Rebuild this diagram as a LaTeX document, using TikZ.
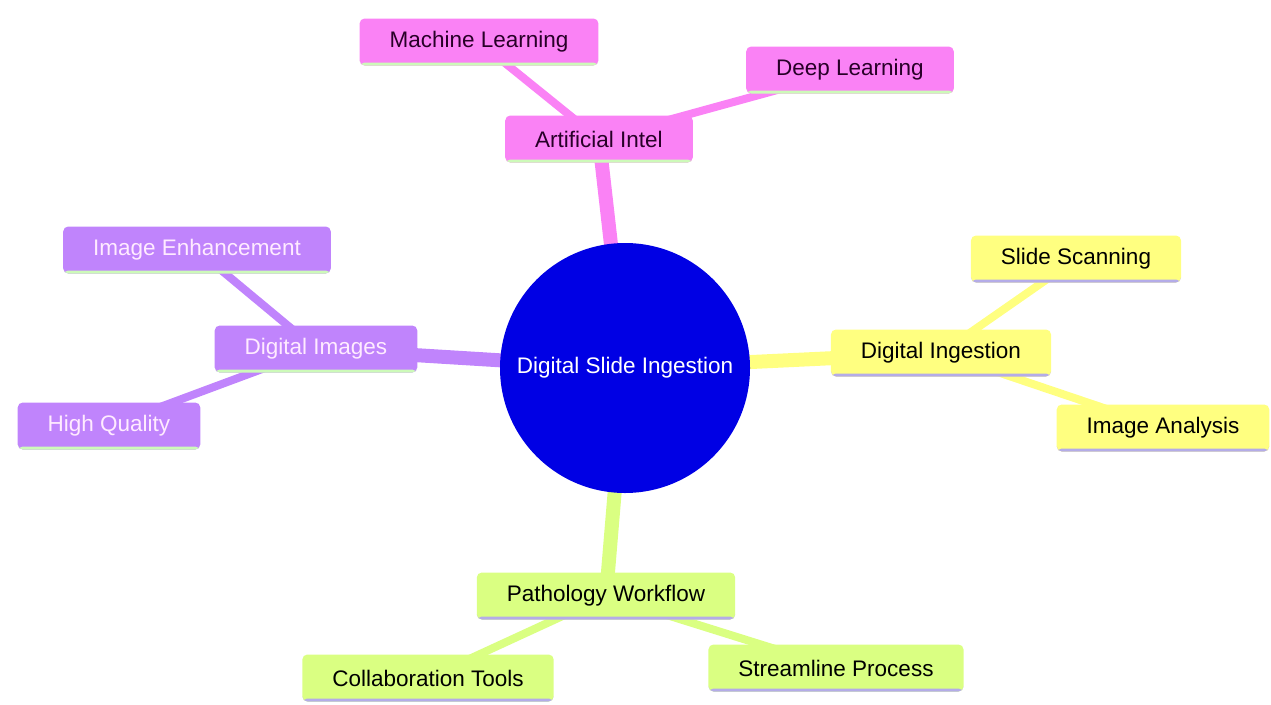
\documentclass[tikz,border=0pt]{standalone}
\usepackage{fontspec}
\setmainfont{Liberation Sans}
\usepackage{tikz}
\usetikzlibrary{backgrounds}
\definecolor{rootblue}{RGB}{0,0,228}
\definecolor{aipink}{RGB}{250,130,245}
\definecolor{imgpurple}{RGB}{192,132,252}
\definecolor{ingyellow}{RGB}{255,255,128}
\definecolor{wfgreen}{RGB}{218,255,130}
\definecolor{edgegreen}{RGB}{205,250,185}
\definecolor{edgelav}{RGB}{180,172,232}
\tikzset{topic/.style={draw=none, rectangle, rounded corners=5pt, inner xsep=30pt, minimum height=47pt, font=\fontsize{22.5}{26}\selectfont}}
\tikzset{greenrim/.style={path picture={\fill[edgegreen] (path picture bounding box.south west) rectangle ([yshift=3pt]path picture bounding box.south east);}}}
\tikzset{lavrim/.style={path picture={\fill[edgelav] (path picture bounding box.south west) rectangle ([yshift=3pt]path picture bounding box.south east);}}}
\tikzset{trunk/.style={line width=14pt}}
\tikzset{twig/.style={line width=8pt}}

\begin{document}
\begin{tikzpicture}[x=1pt, y=-1pt]
	\useasboundingbox (0,0) rectangle (1271,704);

	% Root
	\node[circle, fill=rootblue, minimum size=250pt, text=white, font=\fontsize{22.5}{26}\selectfont] (root) at (625,368) {Digital Slide Ingestion};

	% Artificial intelligence branch
	\node[topic, greenrim, fill=aipink, text={rgb,255:red,40;green,0;blue,40}] (ai) at (599,139) {Artificial Intel};
	\node[topic, greenrim, fill=aipink, text={rgb,255:red,40;green,0;blue,40}] (ml) at (479,42) {Machine Learning};
	\node[topic, greenrim, fill=aipink, text={rgb,255:red,40;green,0;blue,40}] (dl) at (850,70) {Deep Learning};

	% Digital images branch
	\node[topic, greenrim, fill=imgpurple, text={rgb,255:red,255;green,235;blue,255}] (img) at (316,349) {Digital Images};
	\node[topic, greenrim, fill=imgpurple, text={rgb,255:red,255;green,235;blue,255}] (enh) at (197,250) {Image Enhancement};
	\node[topic, greenrim, fill=imgpurple, text={rgb,255:red,255;green,235;blue,255}] (hq) at (109,426) {High Quality};

	% Digital ingestion branch
	\node[topic, lavrim, fill=ingyellow] (ing) at (941,353) {Digital Ingestion};
	\node[topic, lavrim, fill=ingyellow] (scan) at (1076,259) {Slide Scanning};
	\node[topic, lavrim, fill=ingyellow] (ana) at (1163,428) {Image Analysis};

	% Pathology workflow branch
	\node[topic, lavrim, fill=wfgreen] (wf) at (606,596) {Pathology Workflow};
	\node[topic, lavrim, fill=wfgreen] (collab) at (428,678) {Collaboration Tools};
	\node[topic, lavrim, fill=wfgreen] (stream) at (836,668) {Streamline Process};

	% Branches
	\begin{scope}[on background layer]
		\draw[trunk, aipink] (root.center) -- (ai.center);
		\draw[twig, aipink] (ai.center) -- (ml.center);
		\draw[twig, aipink] (ai.center) -- (dl.center);

		\draw[trunk, imgpurple] (root.center) -- (img.center);
		\draw[twig, imgpurple] (img.center) -- (enh.center);
		\draw[twig, imgpurple] (img.center) -- (hq.center);

		\draw[trunk, ingyellow] (root.center) -- (ing.center);
		\draw[twig, ingyellow] (ing.center) -- (scan.center);
		\draw[twig, ingyellow] (ing.center) -- (ana.center);

		\draw[trunk, wfgreen] (root.center) -- (wf.center);
		\draw[twig, wfgreen] (wf.center) -- (collab.center);
		\draw[twig, wfgreen] (wf.center) -- (stream.center);
	\end{scope}
\end{tikzpicture}
\end{document}
